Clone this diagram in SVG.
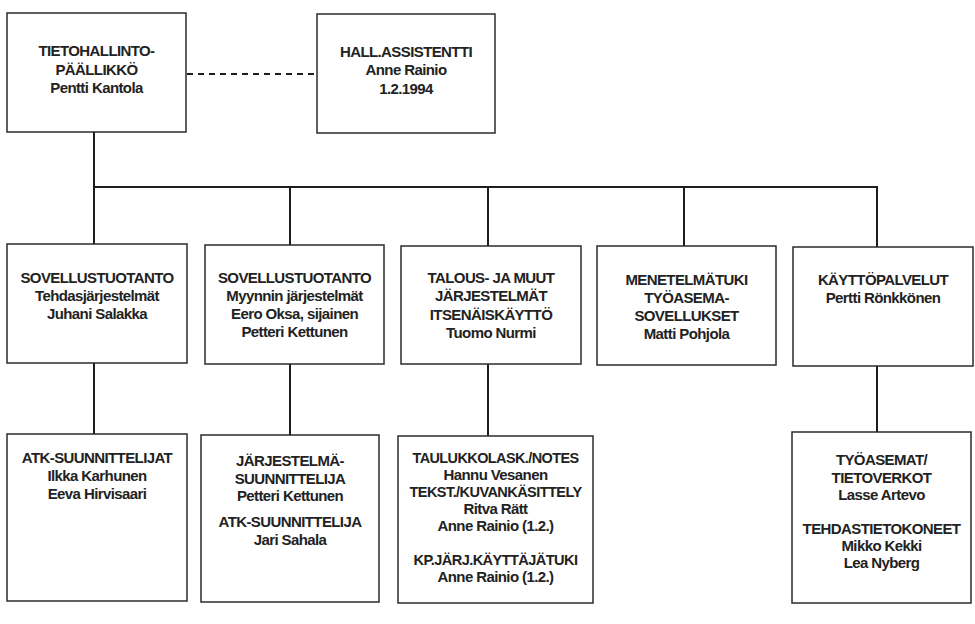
<svg xmlns="http://www.w3.org/2000/svg" width="975" height="624" viewBox="0 0 975 624">
<style>
.box{fill:#fff;stroke:#2b2b2b;stroke-width:1.5}
.ln{stroke:#1e1e1e;stroke-width:2;fill:none}
.dash{stroke:#1e1e1e;stroke-width:2.2;stroke-dasharray:6 5;fill:none}
text{font-family:"Liberation Sans",Arial,sans-serif;font-weight:bold;font-size:15px;fill:#222;text-anchor:middle;letter-spacing:-0.6px}
</style>
<rect width="975" height="624" fill="#fff"/>
<g id="connectors">
<line class="dash" x1="187" y1="74" x2="317" y2="74"/>
<line class="ln" x1="94" y1="132" x2="94" y2="244"/>
<line class="ln" x1="93" y1="187" x2="878" y2="187"/>
<line class="ln" x1="290" y1="187" x2="290" y2="245"/>
<line class="ln" x1="488" y1="187" x2="488" y2="246"/>
<line class="ln" x1="684" y1="187" x2="684" y2="246"/>
<line class="ln" x1="877" y1="187" x2="877" y2="247"/>
<line class="ln" x1="94" y1="363" x2="94" y2="434"/>
<line class="ln" x1="290" y1="364" x2="290" y2="435"/>
<line class="ln" x1="488" y1="364" x2="488" y2="436"/>
<line class="ln" x1="877" y1="366" x2="877" y2="432"/>
</g>
<g id="n-tietohallinto">
<rect class="box" x="7" y="13" width="179" height="119"/>
<text x="96.5" y="56">TIETOHALLINTO-</text>
<text x="96.5" y="75">PÄÄLLIKKÖ</text>
<text x="96.5" y="93">Pentti Kantola</text>
</g>
<g id="n-assistentti">
<rect class="box" x="317" y="14" width="178" height="119"/>
<text x="406" y="57">HALL.ASSISTENTTI</text>
<text x="406" y="75">Anne Rainio</text>
<text x="406" y="94">1.2.1994</text>
</g>
<g id="n-sov-tehdas">
<rect class="box" x="7" y="244" width="180" height="119"/>
<text x="97" y="283">SOVELLUSTUOTANTO</text>
<text x="97" y="301">Tehdasjärjestelmät</text>
<text x="97" y="319">Juhani Salakka</text>
</g>
<g id="n-sov-myynti">
<rect class="box" x="205" y="245" width="179" height="119"/>
<text x="294.5" y="283">SOVELLUSTUOTANTO</text>
<text x="294.5" y="301">Myynnin järjestelmät</text>
<text x="294.5" y="319">Eero Oksa, sijainen</text>
<text x="294.5" y="337">Petteri Kettunen</text>
</g>
<g id="n-talous">
<rect class="box" x="401" y="246" width="180" height="118"/>
<text x="491" y="283">TALOUS- JA MUUT</text>
<text x="491" y="301">JÄRJESTELMÄT</text>
<text x="491" y="320">ITSENÄISKÄYTTÖ</text>
<text x="491" y="338">Tuomo Nurmi</text>
</g>
<g id="n-menetelma">
<rect class="box" x="597" y="246" width="179" height="119"/>
<text x="686.5" y="285">MENETELMÄTUKI</text>
<text x="686.5" y="303">TYÖASEMA-</text>
<text x="686.5" y="321">SOVELLUKSET</text>
<text x="686.5" y="339">Matti Pohjola</text>
</g>
<g id="n-kayttopalvelut">
<rect class="box" x="793" y="247" width="180" height="119"/>
<text x="883" y="285">KÄYTTÖPALVELUT</text>
<text x="883" y="303">Pertti Rönkkönen</text>
</g>
<g id="n-atk">
<rect class="box" x="7" y="434" width="180" height="167"/>
<text x="97" y="463">ATK-SUUNNITTELIJAT</text>
<text x="97" y="481">Ilkka Karhunen</text>
<text x="97" y="499">Eeva Hirvisaari</text>
</g>
<g id="n-jarjestelma">
<rect class="box" x="201" y="435" width="178" height="167"/>
<text x="290" y="466">JÄRJESTELMÄ-</text>
<text x="290" y="484">SUUNNITTELIJA</text>
<text x="290" y="501">Petteri Kettunen</text>
<text x="290" y="527">ATK-SUUNNITTELIJA</text>
<text x="290" y="545">Jari Sahala</text>
</g>
<g id="n-taulukko">
<rect class="box" x="398" y="436" width="195" height="167"/>
<text x="495.5" y="463" textLength="166" lengthAdjust="spacingAndGlyphs">TAULUKKOLASK./NOTES</text>
<text x="495.5" y="480">Hannu Vesanen</text>
<text x="495.5" y="497" textLength="172" lengthAdjust="spacingAndGlyphs">TEKST./KUVANKÄSITTELY</text>
<text x="495.5" y="514">Ritva Rätt</text>
<text x="495.5" y="531">Anne Rainio (1.2.)</text>
<text x="495.5" y="565" textLength="164" lengthAdjust="spacingAndGlyphs">KP.JÄRJ.KÄYTTÄJÄTUKI</text>
<text x="495.5" y="582">Anne Rainio (1.2.)</text>
</g>
<g id="n-tyoasemat">
<rect class="box" x="792" y="432" width="179" height="171"/>
<text x="881.5" y="465">TYÖASEMAT/</text>
<text x="881.5" y="483">TIETOVERKOT</text>
<text x="881.5" y="500">Lasse Artevo</text>
<text x="881.5" y="534">TEHDASTIETOKONEET</text>
<text x="881.5" y="551">Mikko Kekki</text>
<text x="881.5" y="568">Lea Nyberg</text>
</g>
</svg>
